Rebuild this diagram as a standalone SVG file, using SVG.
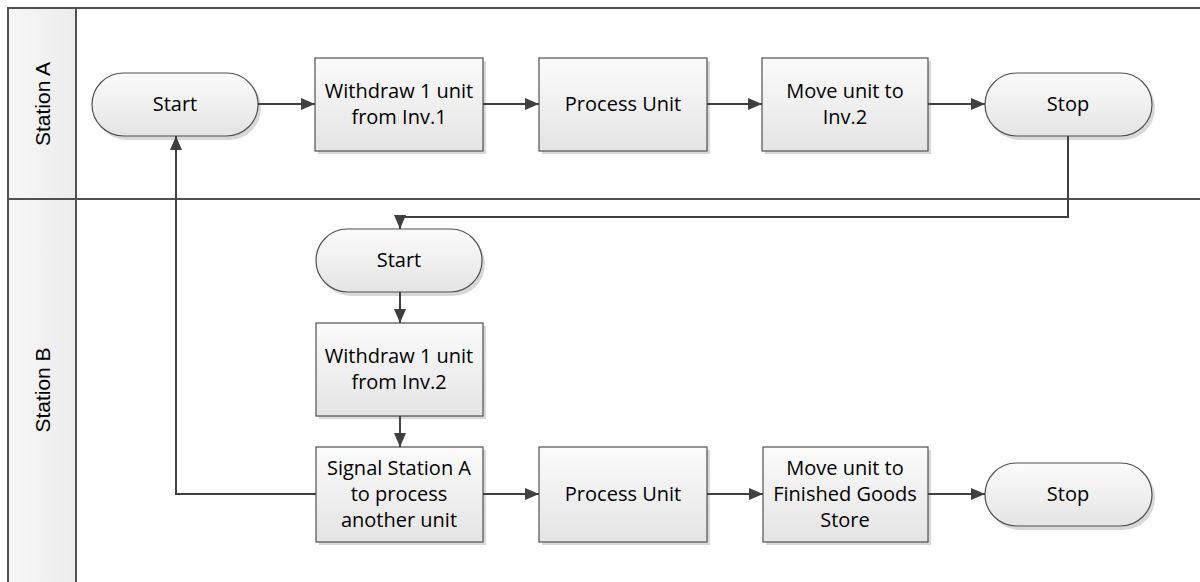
<svg xmlns="http://www.w3.org/2000/svg" width="1200" height="582" viewBox="0 0 1200 582">
<defs>
<linearGradient id="g" x1="0" y1="0" x2="0" y2="1">
<stop offset="0" stop-color="#fbfbfb"/>
<stop offset="1" stop-color="#e4e4e4"/>
</linearGradient>
<linearGradient id="hg" x1="0" y1="0" x2="1" y2="0">
<stop offset="0" stop-color="#f7f7f7"/>
<stop offset="1" stop-color="#ececec"/>
</linearGradient>
<marker id="ah" viewBox="0 0 14 12" refX="14" refY="6" markerWidth="14" markerHeight="12" markerUnits="userSpaceOnUse" orient="auto">
<path d="M0,0 L14,6 L0,12 z" fill="#404040"/>
</marker>
</defs>
<style>
.lane{fill:none;stroke:#505050;stroke-width:2}
.hdr{fill:url(#hg);stroke:none}
.hl{font-family:"Liberation Sans",Arial,sans-serif;font-size:21px;fill:#000;text-anchor:middle;dominant-baseline:central}
.shadow{fill:#d8d8d8}
.box{fill:url(#g);stroke:#505050;stroke-width:1.2}
.t{font-family:"Open Sans","Noto Sans",sans-serif;font-size:20px;fill:#000;text-anchor:middle}
.c{fill:none;stroke:#404040;stroke-width:2;marker-end:url(#ah)}
</style>
<rect x="0" y="0" width="1200" height="582" fill="#fff"/>
<g id="pool">
<rect class="hdr" x="9" y="9" width="67" height="573"/>
<line class="lane" x1="8" y1="8" x2="1200" y2="8"/>
<line class="lane" x1="8" y1="7" x2="8" y2="582"/>
<line class="lane" x1="76" y1="8" x2="76" y2="582"/>
<line class="lane" x1="8" y1="199" x2="1200" y2="199"/>
<text class="hl" transform="translate(42,104) rotate(-90)">Station A</text>
<text class="hl" transform="translate(42,390) rotate(-90)">Station B</text>
</g>
<g id="startA">
<rect class="shadow" x="95" y="76" width="166" height="64" rx="32"/>
<rect class="box" x="92" y="73" width="166" height="63" rx="31.5"/>
<text class="t" x="175" y="111">Start</text>
</g>
<g id="withdraw1">
<rect class="shadow" x="318" y="61" width="168" height="93"/>
<rect class="box" x="315" y="58" width="168" height="93"/>
<text class="t" x="399" y="98">Withdraw 1 unit</text>
<text class="t" x="399" y="124">from Inv.1</text>
</g>
<g id="processA">
<rect class="shadow" x="542" y="61" width="168" height="93"/>
<rect class="box" x="539" y="58" width="168" height="93"/>
<text class="t" x="623" y="111">Process Unit</text>
</g>
<g id="moveA">
<rect class="shadow" x="765" y="61" width="166" height="93"/>
<rect class="box" x="762" y="58" width="166" height="93"/>
<text class="t" x="845" y="98">Move unit to</text>
<text class="t" x="845" y="124">Inv.2</text>
</g>
<g id="stopA">
<rect class="shadow" x="988" y="76" width="167" height="64" rx="32"/>
<rect class="box" x="985" y="73" width="167" height="63" rx="31.5"/>
<text class="t" x="1068" y="111">Stop</text>
</g>
<g id="startB">
<rect class="shadow" x="319" y="232" width="166" height="64" rx="32"/>
<rect class="box" x="316" y="229" width="166" height="63" rx="31.5"/>
<text class="t" x="399" y="267">Start</text>
</g>
<g id="withdraw2">
<rect class="shadow" x="319" y="326" width="167" height="93"/>
<rect class="box" x="316" y="323" width="167" height="93"/>
<text class="t" x="399" y="363">Withdraw 1 unit</text>
<text class="t" x="399" y="389">from Inv.2</text>
</g>
<g id="signal">
<rect class="shadow" x="319" y="450" width="167" height="95"/>
<rect class="box" x="316" y="447" width="167" height="95"/>
<text class="t" x="399" y="475">Signal Station A</text>
<text class="t" x="399" y="501">to process</text>
<text class="t" x="399" y="527">another unit</text>
</g>
<g id="processB">
<rect class="shadow" x="542" y="450" width="168" height="95"/>
<rect class="box" x="539" y="447" width="168" height="95"/>
<text class="t" x="623" y="501">Process Unit</text>
</g>
<g id="moveB">
<rect class="shadow" x="766" y="450" width="165" height="95"/>
<rect class="box" x="763" y="447" width="165" height="95"/>
<text class="t" x="845" y="475">Move unit to</text>
<text class="t" x="845" y="501">Finished Goods</text>
<text class="t" x="845" y="527">Store</text>
</g>
<g id="stopB">
<rect class="shadow" x="988" y="466" width="167" height="64" rx="32"/>
<rect class="box" x="985" y="463" width="167" height="63" rx="31.5"/>
<text class="t" x="1068" y="501">Stop</text>
</g>
<g id="connectors">
<path class="c" d="M258,104 H315"/>
<path class="c" d="M483,104 H539"/>
<path class="c" d="M707,104 H762"/>
<path class="c" d="M928,104 H985"/>
<path class="c" d="M1068,136 V217 H400 V229"/>
<path class="c" d="M400,292 V323"/>
<path class="c" d="M400,416 V447"/>
<path class="c" d="M483,494 H539"/>
<path class="c" d="M707,494 H763"/>
<path class="c" d="M928,494 H985"/>
<path class="c" d="M316,494 H176 V136"/>
</g>
</svg>
